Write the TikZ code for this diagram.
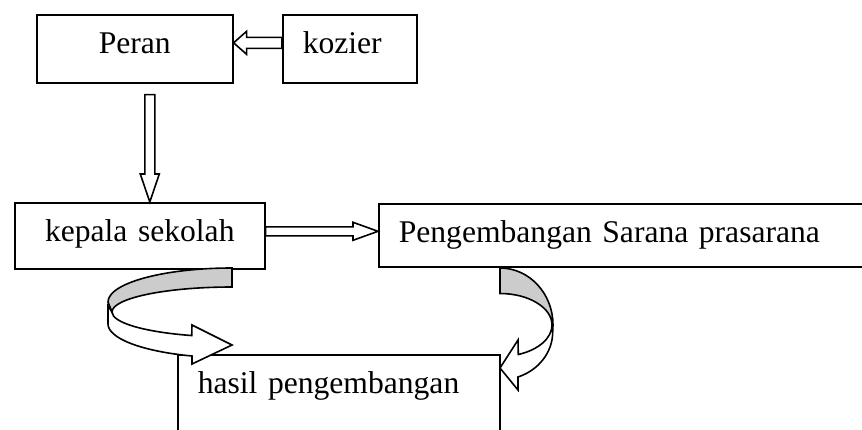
\documentclass[tikz,border=0pt]{standalone}
\usepackage{fontspec}
\setmainfont{Liberation Serif}
\usetikzlibrary{calc}
\newcommand{\diagfont}{\fontsize{31.6}{38}\selectfont}
\definecolor{mgray}{gray}{0.8}
\tikzset{txtbox/.style = {draw, line width=1.6pt, anchor=north west, inner xsep=20pt,
                          inner ysep=18pt, text height=21pt, align=left, font=\diagfont}}
\tikzset{hollow/.style = {draw, fill=white, line width=1.6pt, line join=miter}}
\tikzset{bendfront/.style = {draw, fill=white, line width=1.6pt, line join=miter}}
\tikzset{bendback/.style = {draw, fill=mgray, line width=1.6pt}}
% #1 tail, #2 tip, #3 half shaft, #4 half head, #5 head length
\newcommand{\hollowarrow}[5]{%
  \draw [hollow] ($#1!#3!90:#2$) -- ($#2!#5!#1!#3!90:#2$) -- ($#2!#5!#1!#4!90:#2$) -- #2
    -- ($#2!#5!#1!#4!-90:#2$) -- ($#2!#5!#1!#3!-90:#2$) -- ($#1!#3!-90:#2$) -- cycle;}

\begin{document}
\begin{tikzpicture}[x=1pt, y=-1pt]
          \useasboundingbox (0, 0) rectangle (862, 429);
          \clip (0, 0) rectangle (862, 429);

          \node [txtbox, text width=156pt, align=center, text depth=11pt] (peran) at (36, 14) {Peran};
          \node [txtbox, text width=94pt, text depth=11pt] (kozier) at (282, 14) {kozier};
          \node [txtbox, text width=210pt, align=center, text depth=9pt] (kepala) at (14, 202) {kepala sekolah};
          \node [txtbox, text width=460pt, text depth=6pt] (sarana) at (378, 203) {Pengembangan Sarana prasarana};
          \node [txtbox, text width=282pt, text depth=60pt] (hasil) at (177, 354) {hasil pengembangan};

          \coordinate (kozierout) at ([yshift=6pt]kozier.west);
          \coordinate (peranin) at ([yshift=6pt]peran.east);
          \coordinate (peranout) at ([xshift=15pt, yshift=-11pt]peran.south);
          \coordinate (kepalain) at ([xshift=10pt]kepala.north);
          \coordinate (kepalaout) at ([yshift=4.5pt]kepala.east);
          \coordinate (saranain) at ([yshift=4pt]sarana.west);

          \hollowarrow{(kozierout)}{(peranin)}{5.5pt}{11.5pt}{13pt}
          \hollowarrow{(peranout)}{(kepalain)}{5pt}{9.5pt}{28pt}
          \hollowarrow{(kepalaout)}{(saranain)}{4.5pt}{9pt}{25pt}

          \draw [bendfront] (112, 312) arc [start angle=180, end angle=109.6, x radius=120, y radius=25]
                -- (192, 325) -- (232, 345) -- (192, 364) -- (192, 356)
                arc [start angle=108.8, end angle=180, x radius=124, y radius=34] -- (108, 306) -- cycle;
          \draw [bendback] (232, 268) arc [start angle=-90, end angle=-180, x radius=124, y radius=34]
                -- (112, 312) arc [start angle=180, end angle=270, x radius=120, y radius=25] -- cycle;

          \draw [bendfront] (552, 325) arc [start angle=0, end angle=69.4, x radius=52, y radius=31.5]
                -- (518, 340) -- (500, 368) -- (518, 390) -- (518, 377)
                arc [start angle=69.8, end angle=0, x radius=53, y radius=48] -- (553, 325) -- cycle;
          \draw [bendback] (500, 268) arc [start angle=-90, end angle=0, x radius=53, y radius=57]
                -- (552, 325) arc [start angle=0, end angle=-90, x radius=52, y radius=31.5] -- cycle;
        \end{tikzpicture}
\end{document}
